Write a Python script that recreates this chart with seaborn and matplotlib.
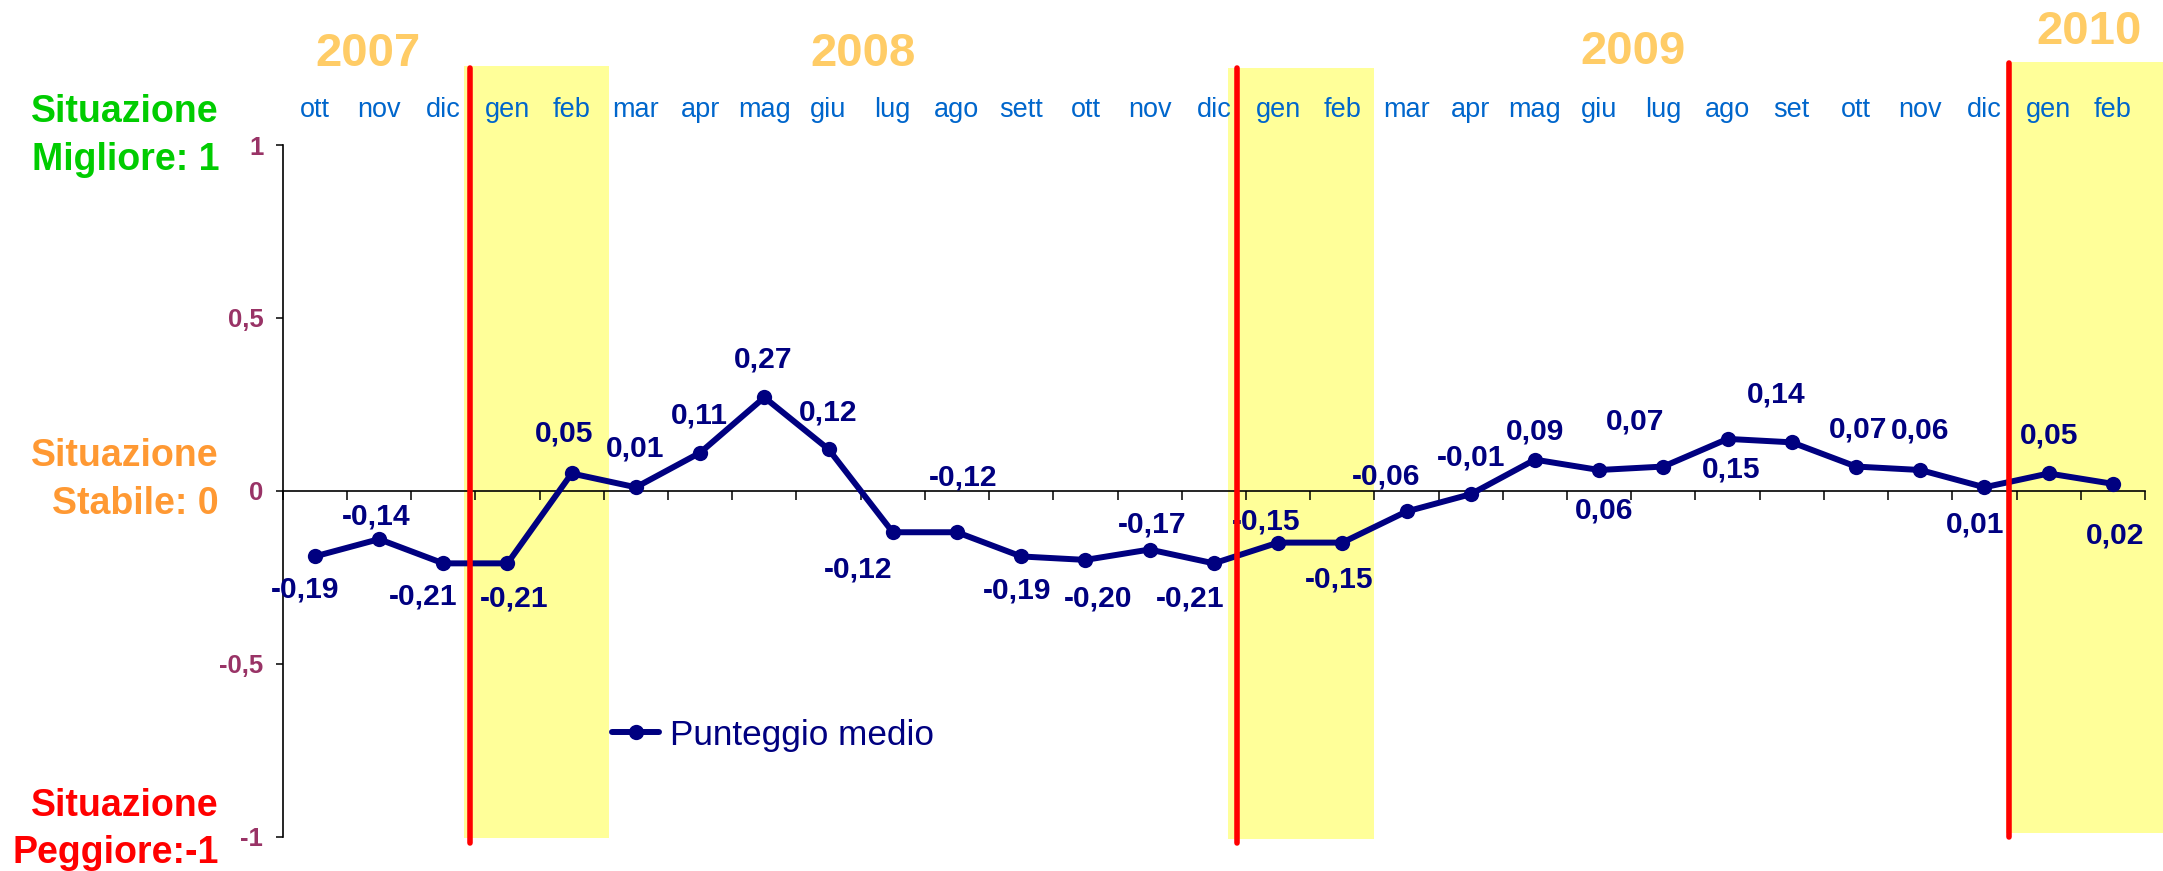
import numpy as np
import pandas as pd
import matplotlib
matplotlib.use("Agg")
import matplotlib.pyplot as plt
import seaborn as sns

# ---------------- data ----------------
months = ['ott', 'nov', 'dic',
          'gen', 'feb', 'mar', 'apr', 'mag', 'giu', 'lug', 'ago', 'sett', 'ott', 'nov', 'dic',
          'gen', 'feb', 'mar', 'apr', 'mag', 'giu', 'lug', 'ago', 'set', 'ott', 'nov', 'dic',
          'gen', 'feb']
values = [-0.19, -0.14, -0.21,
          -0.21, 0.05, 0.01, 0.11, 0.27, 0.12, -0.12, -0.12, -0.19, -0.20, -0.17, -0.21,
          -0.15, -0.15, -0.06, -0.01, 0.09, 0.06, 0.07, 0.15, 0.14, 0.07, 0.06, 0.01,
          0.05, 0.02]
years = ['2007', '2008', '2009', '2010']
y_ticks = [1, 0.5, 0, -0.5, -1]
y_tick_labels = ['1', '0,5', '0', '-0,5', '-1']
series_name = 'Punteggio medio'
side_labels = ['Situazione\nMigliore: 1', 'Situazione\nStabile: 0', 'Situazione\nPeggiore:-1']

# ---------------- layout / style ----------------
W, H, DPI = 2163, 871, 100
AX_L, AX_R, AX_T, AX_B = 282.7, 2145.0, 145.0, 836.5   # axes box in pixels

# label offsets in pixels (dx, dy with dy positive = downwards)
label_offsets = [(-10, 33), (-3, -23), (-20, 33), (7, 35), (-8, -40), (-1, -39), (-1, -37),
                 (-1, -38), (0, -37), (-35, 37), (6, -55), (-4, 34), (13, 39), (3, -25),
                 (-24, 35), (-12, -21), (-3, 37), (-20, -35), (0, -37), (0, -28), (5, 40),
                 (-28, -45), (4, 31), (-16, -48), (2, -37), (0, -40), (-9, 37), (0, -38),
                 (2, 52)]
# yellow bands (x0, x1 in data units, top/bottom in pixels) and red separators
bands = [(2.33, 4.58, 66, 838), (14.22, 16.5, 67.7, 839), (26.34, 28.85, 62.3, 833.3)]
red_lines = [(2.42, 68, 842.7), (14.36, 68, 842.7), (26.38, 62.7, 836.7)]
year_pos = [(368, 53.5), (863, 53.5), (1633, 51.5), (2089, 31.5)]
side_pos = [(219, 136), (219, 480), (219, 829.5)]
side_colors = ['#00CC00', '#FF9933', '#FF0000']

NAVY = '#000080'

sns.set_style('white')
plt.rcParams['font.family'] = ['Liberation Sans', 'DejaVu Sans']

fig = plt.figure(figsize=(W / DPI, H / DPI), dpi=DPI)
ax = fig.add_axes([AX_L / W, 1 - AX_B / H, (AX_R - AX_L) / W, (AX_B - AX_T) / H])
ax.set_facecolor('none')


def py2ax(py):
    return (AX_B - py) / (AX_B - AX_T)


x_pos = np.arange(len(values))
df = pd.DataFrame({'x': x_pos, 'value': values})

# bands
for x0, x1, top, bot in bands:
    ax.axvspan(x0, x1, ymin=py2ax(bot), ymax=py2ax(top), color='#FFFF99',
               zorder=0, clip_on=False, lw=0)

sns.lineplot(data=df, x='x', y='value', ax=ax, color=NAVY, linewidth=4.3,
             marker='o', markersize=11, markeredgewidth=0, label=series_name, zorder=5)

for xr, top, bot in red_lines:
    ax.axvline(xr, ymin=py2ax(bot), ymax=py2ax(top), color='#FF0000', lw=4.0,
               zorder=10, clip_on=False)

# data labels
for xi, v, (dx, dy) in zip(x_pos, values, label_offsets):
    ax.annotate(f"{v:.2f}".replace('.', ','), (xi, v), xytext=(dx, -dy),
                textcoords='offset pixels', ha='center', va='center',
                fontsize=21.6, fontweight='bold', color=NAVY, zorder=6)

ax.set_xlim(-0.5, len(values) - 0.5)
ax.set_ylim(-1, 1)

# x axis: month names on top, boundary ticks on zero line
ax.set_xticks(x_pos, months)
ax.set_xticks(np.arange(-0.5, len(values), 1), minor=True)
ax.tick_params(axis='x', which='major', length=0, bottom=False, top=False,
               labeltop=True, labelbottom=False, pad=16, labelsize=19.5,
               labelcolor='#0066CC')
ax.tick_params(axis='x', which='minor', bottom=True, top=False, length=6.5,
               width=1.1, direction='out', color='black')

ax.set_yticks(y_ticks, y_tick_labels, fontweight='bold')
ax.tick_params(axis='y', left=True, length=5, width=1.1, direction='out',
               labelsize=18.5, labelcolor='#993366', pad=9, color='black')

ax.set_xlabel('')
ax.set_ylabel('')
for s in ['top', 'right']:
    ax.spines[s].set_visible(False)
ax.spines['bottom'].set_position(('data', 0))
ax.spines['bottom'].set_color('black')
ax.spines['left'].set_color('black')
ax.spines['bottom'].set_linewidth(1.2)
ax.spines['left'].set_linewidth(1.2)

leg = ax.legend(loc='center left', bbox_to_anchor=((612 - AX_L) / (AX_R - AX_L), py2ax(735)),
                frameon=False, borderpad=0, borderaxespad=0, handlelength=1.35,
                handletextpad=0.3, fontsize=25.3, labelcolor=NAVY)

# year labels
for txt, (px, py) in zip(years, year_pos):
    fig.text(px / W, 1 - py / H, txt, ha='center', va='center', fontsize=34,
             fontweight='bold', color='#FFCC66')

# side labels
for txt, (px, py), c in zip(side_labels, side_pos, side_colors):
    fig.text(px / W, 1 - py / H, txt, ha='right', va='center', multialignment='right',
             fontsize=27, fontweight='bold', color=c, linespacing=1.4)

fig.savefig('out.png', dpi=DPI)
